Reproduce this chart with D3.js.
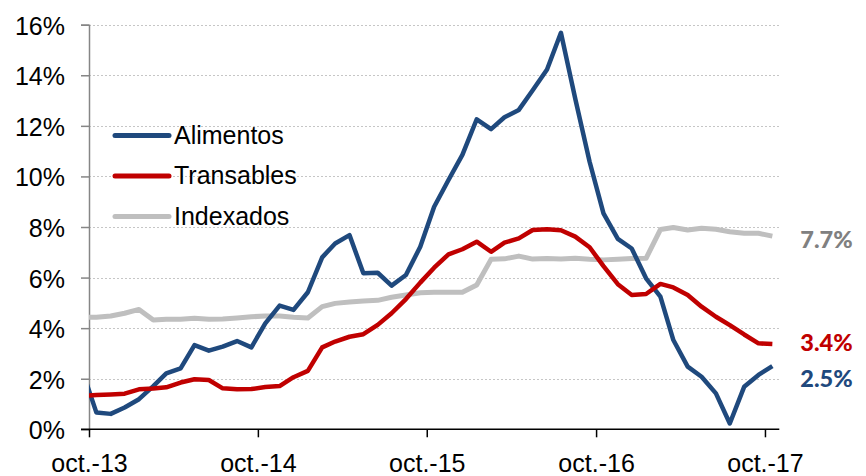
<!DOCTYPE html>
<html><head><meta charset="utf-8">
<script src="https://cdn.jsdelivr.net/npm/d3@7"></script>
<style>
html,body{margin:0;padding:0;background:#fff;}
svg{display:block;}
</style>
</head><body>
<svg id="chart" width="866" height="476"></svg>
<script>
// Monthly data, sep.-13 (clipped at the axis) through oct.-17
const startMonth = new Date(2013, 8, 17);
const seriesNames = ["Alimentos", "Transables", "Indexados"];
const alimentos = [2.3,
  0.66,0.61,0.86,1.19,1.71,2.21,2.41,3.33,3.11,3.27,3.49,3.24,
  4.19,4.89,4.72,5.42,6.80,7.35,7.68,6.17,6.19,5.68,6.10,7.22,
  8.80,9.86,10.85,12.26,11.87,12.34,12.63,13.41,14.23,15.68,13.07,10.58,
  8.54,7.53,7.15,5.97,5.25,3.53,2.48,2.08,1.42,0.23,1.68,2.15,
  2.50];
const transables = [1.32,
  1.36,1.38,1.41,1.58,1.61,1.66,1.85,1.98,1.95,1.62,1.58,1.59,
  1.67,1.71,2.06,2.31,3.24,3.47,3.66,3.76,4.13,4.59,5.15,5.80,
  6.39,6.92,7.12,7.42,7.02,7.38,7.55,7.88,7.91,7.87,7.62,7.20,
  6.45,5.74,5.31,5.35,5.75,5.61,5.31,4.85,4.45,4.12,3.75,3.40,
  3.37];
const indexados = [4.43,
  4.43,4.48,4.59,4.74,4.32,4.35,4.35,4.39,4.35,4.36,4.40,4.45,
  4.48,4.48,4.43,4.40,4.85,4.98,5.03,5.07,5.10,5.22,5.31,5.40,
  5.42,5.42,5.42,5.71,6.72,6.74,6.85,6.73,6.75,6.73,6.76,6.72,
  6.70,6.72,6.75,6.76,7.90,7.98,7.88,7.95,7.91,7.81,7.75,7.75,
  7.64];
const endLabels = ["2.5%", "3.4%", "7.7%"];
const tickYears = [2013, 2014, 2015, 2016, 2017];
const yTicks = [0, 2, 4, 6, 8, 10, 12, 14, 16];

const colors = {Alimentos: "#1F497D", Transables: "#C00000", Indexados: "#BFBFBF"};
const widths = {Alimentos: 4.5, Transables: 4.5, Indexados: 5};
const labelColors = {Alimentos: "#1F497D", Transables: "#C00000", Indexados: "#808080"};
const labelDy = {Alimentos: 20.6, Transables: 6.6, Indexados: 12.2};

const svg = d3.select("#chart");
const x = d3.scaleTime()
  .domain([new Date(2013, 9, 1), new Date(2017, 10, 1)])
  .range([89, 779.3]);
const y = d3.scaleLinear().domain([0, 16]).range([429.3, 24.7]);

const dates = alimentos.map((_, i) => d3.timeMonth.offset(startMonth, i));
const series = [
  {name: "Indexados", values: indexados},
  {name: "Alimentos", values: alimentos},
  {name: "Transables", values: transables}
];

// gridlines
svg.append("g").selectAll("line")
  .data(yTicks.filter(d => d > 0))
  .join("line")
  .attr("x1", x.range()[0]).attr("x2", x.range()[1])
  .attr("y1", d => Math.round(y(d)) + 0.5).attr("y2", d => Math.round(y(d)) + 0.5)
  .attr("stroke", "#C6C6C6").attr("stroke-width", 1)
  .attr("stroke-dasharray", "2,2");

// y axis
const yAxis = svg.append("g")
  .attr("transform", `translate(${x.range()[0]},0)`)
  .call(d3.axisLeft(y).tickValues(yTicks).tickFormat(d => d + "%").tickSize(8).tickPadding(16));
yAxis.select(".domain").attr("stroke", "#868686").attr("stroke-width", 1.5);
yAxis.selectAll(".tick line").attr("stroke", "#868686").attr("stroke-width", 1.5);
yAxis.selectAll(".tick text")
  .attr("font-family", "'Liberation Sans', Arial, sans-serif")
  .attr("font-size", 25).attr("fill", "#000").attr("dy", "0.38em");

// x axis
const xAxis = svg.append("g")
  .attr("transform", `translate(0,${y(0)})`)
  .call(d3.axisBottom(x)
    .tickValues(tickYears.map(yr => new Date(yr, 9, 1)))
    .tickFormat(d => "oct.-" + String(d.getFullYear()).slice(2))
    .tickSize(8).tickSizeOuter(0).tickPadding(17));
xAxis.select(".domain").attr("d", `M81,0H${x.range()[1]}`).attr("stroke", "#000").attr("stroke-width", 1.5);
xAxis.selectAll(".tick line").attr("stroke", "#000").attr("stroke-width", 1.5);
xAxis.selectAll(".tick text")
  .attr("font-family", "'Liberation Sans', Arial, sans-serif")
  .attr("font-size", 25).attr("fill", "#000").attr("dy", "0.71em");

// clip
svg.append("clipPath").attr("id", "clip")
  .append("rect").attr("x", x.range()[0]).attr("y", 0)
  .attr("width", x.range()[1] - x.range()[0]).attr("height", 476);

const line = d3.line().x((d, i) => x(dates[i])).y(d => y(d));
svg.append("g").attr("clip-path", "url(#clip)")
  .selectAll("path").data(series).join("path")
  .attr("d", d => line(d.values))
  .attr("fill", "none")
  .attr("stroke", d => colors[d.name])
  .attr("stroke-width", d => widths[d.name])
  .attr("stroke-linejoin", "round")
  .attr("stroke-linecap", "butt");

// end labels
const lastIdx = alimentos.length - 1;
const endSeries = [
  {name: "Alimentos", values: alimentos, label: endLabels[0]},
  {name: "Transables", values: transables, label: endLabels[1]},
  {name: "Indexados", values: indexados, label: endLabels[2]}
];
svg.append("g").selectAll("text").data(endSeries).join("text")
  .attr("x", x(dates[lastIdx]) + 28)
  .attr("y", d => y(d.values[lastIdx]) + labelDy[d.name])
  .attr("font-family", "Lato, 'Open Sans', sans-serif")
  .attr("font-weight", 900)
  .attr("font-size", 23.5)
  .attr("fill", d => labelColors[d.name])
  .text(d => d.label);

// legend
const legend = svg.append("g").attr("transform", "translate(115,135.5)");
const li = legend.selectAll("g").data(seriesNames).join("g")
  .attr("transform", (d, i) => `translate(0,${i * 40.5})`);
li.append("line").attr("x1", 0).attr("x2", 54).attr("y1", 0).attr("y2", 0)
  .attr("stroke", d => colors[d]).attr("stroke-width", 5).attr("stroke-linecap", "round");
li.append("text").attr("x", 59).attr("y", 0).attr("dy", "0.32em")
  .attr("font-family", "'Liberation Sans', Arial, sans-serif")
  .attr("font-size", 25).attr("fill", "#000")
  .text(d => d);
</script>
</body></html>
